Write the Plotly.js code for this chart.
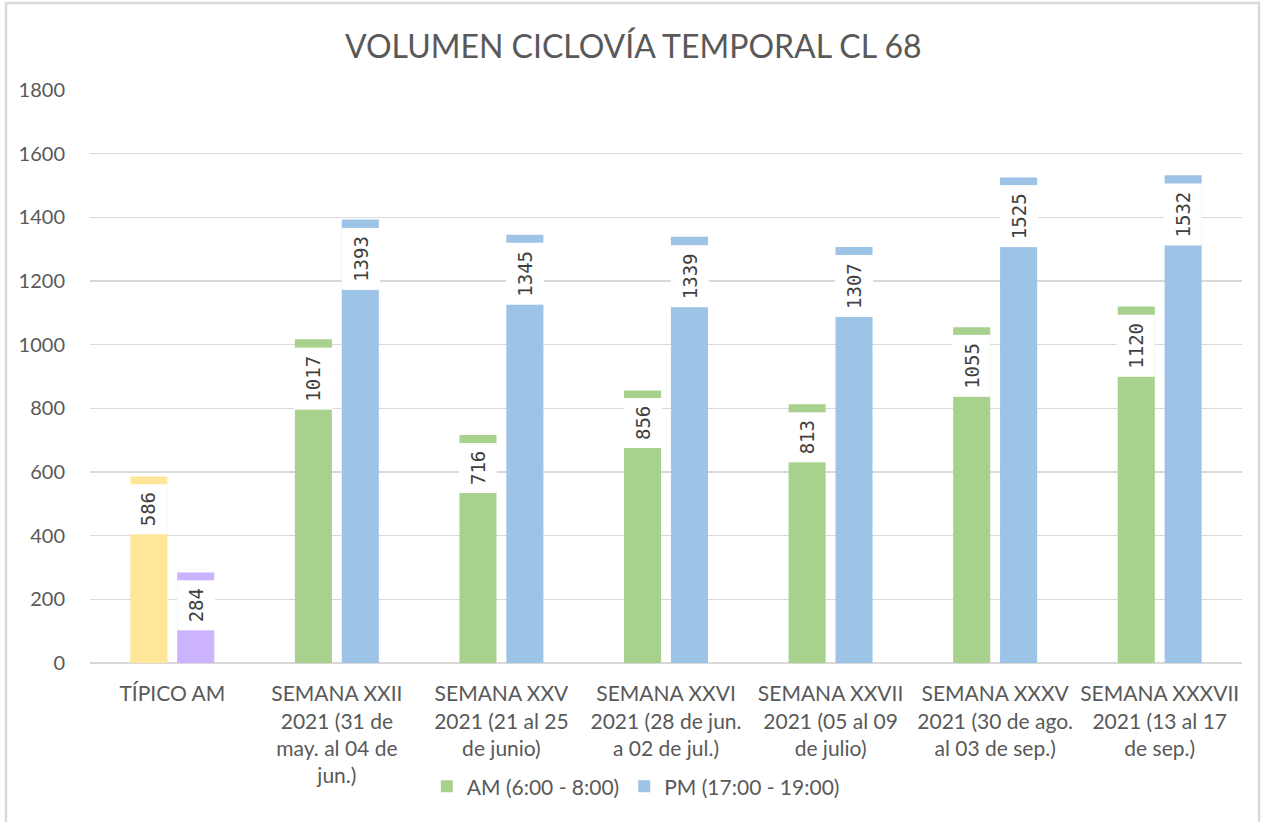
<!DOCTYPE html>
<html>
<head>
<meta charset="utf-8">
<script src="https://cdn.plot.ly/plotly-3.0.1.min.js"></script>
<style>
  html, body { margin: 0; padding: 0; background: #fff; }
  #chart { width: 1264px; height: 822px; }
</style>
</head>
<body>
<div id="chart"></div>
<script>
// categorías del eje x
const categories = ['tipico', 'xxii', 'xxv', 'xxvi', 'xxvii', 'xxxv', 'xxxvii'];
const tickLabels = [
    'TÍPICO AM',
    'SEMANA XXII<br>2021 (31 de<br>may. al 04 de<br>jun.)',
    'SEMANA XXV<br>2021 (21 al 25<br>de junio)',
    'SEMANA XXVI<br>2021 (28 de jun.<br>a 02 de jul.)',
    'SEMANA XXVII<br>2021 (05 al 09<br>de julio)',
    'SEMANA XXXV<br>2021 (30 de ago.<br>al 03 de sep.)',
    'SEMANA XXXVII<br>2021 (13 al 17<br>de sep.)'
];

// valores
const tipicoAm = [586];
const tipicoPm = [284];
const amValues = [1017, 716, 856, 813, 1055, 1120];
const pmValues = [1393, 1345, 1339, 1307, 1525, 1532];

const seriesNames = ['AM (6:00 - 8:00)', 'PM (17:00 - 19:00)'];

const YELLOW = '#FFE699';
const PURPLE = '#CCB3FF';
const GREEN = '#A9D18E';
const BLUE = '#9DC3E6';
const TEXT = '#595959';

const BARGAP = 0.43;
const slot = (1 - BARGAP) / 2;

const weekCats = categories.slice(1);

const traces = [
    { x: [categories[0]], y: tipicoAm, type: 'bar', offsetgroup: 'am', marker: { color: YELLOW }, showlegend: false, hoverinfo: 'skip' },
    { x: [categories[0]], y: tipicoPm, type: 'bar', offsetgroup: 'pm', marker: { color: PURPLE }, showlegend: false, hoverinfo: 'skip' },
    { x: weekCats, y: amValues, type: 'bar', name: seriesNames[0], offsetgroup: 'am', marker: { color: GREEN } },
    { x: weekCats, y: pmValues, type: 'bar', name: seriesNames[1], offsetgroup: 'pm', marker: { color: BLUE } }
];

// etiquetas de datos con fondo blanco, rotadas
function makeLabel(idx, value, side) {
    return {
        x: idx + side * slot / 2,
        y: value,
        xref: 'x', yref: 'y',
        text: String(value),
        showarrow: false,
        textangle: -90,
        yanchor: 'top',
        yshift: -8,
        bgcolor: '#ffffff',
        borderpad: 8,
        borderwidth: 0,
        font: { family: 'DejaVu Sans Mono, monospace', size: 19, color: '#404040' }
    };
}

const annotations = [];
annotations.push(makeLabel(0, tipicoAm[0], -1));
annotations.push(makeLabel(0, tipicoPm[0], 1));
amValues.forEach((v, i) => annotations.push(makeLabel(i + 1, v, -1)));
pmValues.forEach((v, i) => annotations.push(makeLabel(i + 1, v, 1)));

const layout = {
    width: 1264,
    height: 822,
    margin: { l: 90, r: 22, t: 90, b: 159 },
    paper_bgcolor: '#ffffff',
    plot_bgcolor: '#ffffff',
    font: { family: 'Lato, Open Sans, sans-serif', color: TEXT },
    title: {
        text: 'VOLUMEN CICLOVÍA TEMPORAL CL 68',
        font: { family: 'Lato, Open Sans, sans-serif', size: 32, color: TEXT },
        x: 0.501, xref: 'container', xanchor: 'center',
        y: 0.943, yref: 'container', yanchor: 'middle'
    },
    barmode: 'group',
    bargap: BARGAP,
    bargroupgap: 0.21,
    xaxis: {
        type: 'category',
        categoryorder: 'array',
        categoryarray: categories,
        tickvals: categories,
        ticktext: tickLabels,
        tickangle: 0,
        tickfont: { size: 21, color: TEXT },
        ticks: 'outside',
        ticklen: 12,
        tickcolor: 'rgba(0,0,0,0)',
        showgrid: false,
        showline: false,
        automargin: false,
        fixedrange: true
    },
    yaxis: {
        range: [0, 1800],
        dtick: 200,
        tick0: 0,
        tickfont: { size: 20, color: TEXT },
        ticks: 'outside',
        ticklen: 20,
        tickcolor: 'rgba(0,0,0,0)',
        gridcolor: '#D9D9D9',
        gridwidth: 1.5,
        zeroline: true,
        zerolinecolor: '#D9D9D9',
        zerolinewidth: 1.5,
        showline: false,
        fixedrange: true
    },
    showlegend: true,
    legend: {
        orientation: 'h',
        x: 0.503, xref: 'container', xanchor: 'center',
        y: 0.043, yref: 'container', yanchor: 'middle',
        font: { size: 21, color: TEXT },
        bgcolor: 'rgba(0,0,0,0)'
    },
    annotations: annotations,
    shapes: [{
        type: 'rect', xref: 'paper', yref: 'paper',
        x0: (6 - 90) / 1152, x1: (1259 - 90) / 1152,
        y0: -0.3, y1: (663 - 3) / 573,
        line: { color: '#D9D9D9', width: 2.5 },
        fillcolor: 'rgba(0,0,0,0)',
        layer: 'below'
    }]
};

Plotly.newPlot('chart', traces, layout, { displayModeBar: false, staticPlot: true });
</script>
</body>
</html>
